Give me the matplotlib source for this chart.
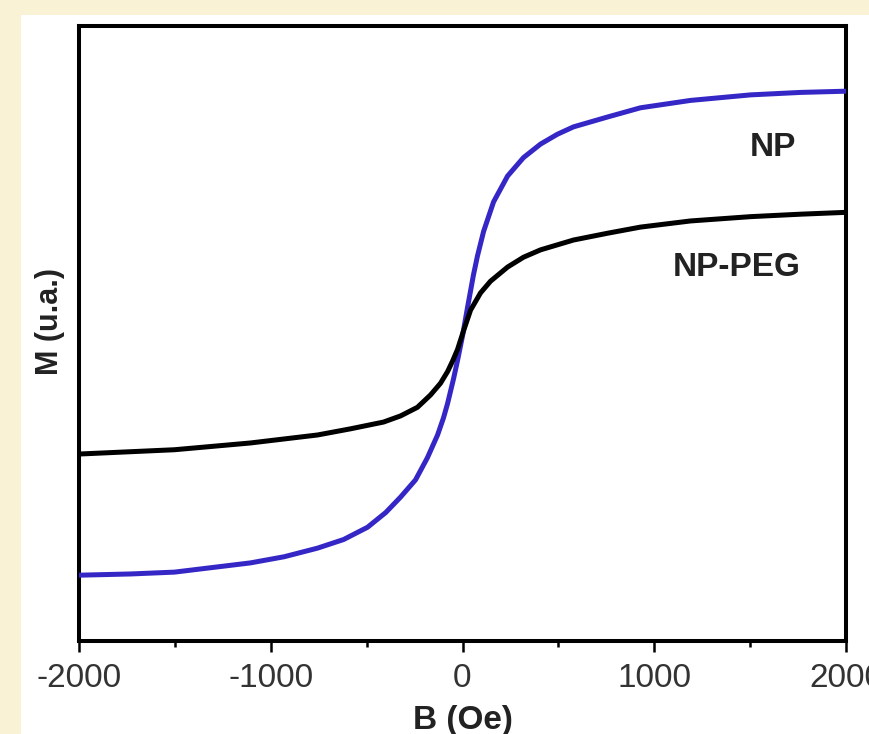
import numpy as np
import matplotlib.pyplot as plt
from matplotlib.patches import Rectangle

# campo aplicado (Oe) e magnetizacao (u.a.)
campo_np = [-2000, -1731, -1502, -1106, -930, -756, -620, -495, -400, -323, -245, -183,
            -130, -99, -78, -47, -26, 0, 26, 57, 78, 110, 162, 235, 318, 407, 495, 579,
            756, 928, 1189, 1502, 1763, 2000]
mag_np = [10.7, 10.9, 11.2, 12.7, 13.7, 15.1, 16.5, 18.5, 20.9, 23.4, 26.2, 29.8,
          33.5, 36.3, 38.6, 42.6, 45.6, 49.6, 54.2, 59.5, 62.6, 66.6, 71.4, 75.6, 78.6,
          80.8, 82.4, 83.6, 85.2, 86.7, 87.9, 88.8, 89.2, 89.4]

campo_peg = [-2000, -1502, -1106, -756, -584, -412, -323, -235, -167, -115, -78, -52,
             -26, 5, 42, 94, 146, 235, 318, 407, 579, 756, 928, 1189, 1502, 1763, 2000]
mag_peg = [30.4, 31.1, 32.2, 33.5, 34.5, 35.6, 36.6, 38.0, 40.0, 41.9, 43.8, 45.5,
           47.4, 50.4, 53.8, 56.6, 58.5, 60.8, 62.4, 63.6, 65.2, 66.3, 67.3, 68.3,
           69.0, 69.4, 69.7]

ticks_x = [-2000, -1000, 0, 1000, 2000]
rotulos_x = ['-2000', '-1000', '0', '1000', '2000']

plt.rcParams['font.family'] = ['Liberation Sans', 'DejaVu Sans']

fig = plt.figure(figsize=(8.69, 7.34), dpi=100)
fig.patch.set_facecolor('#f9f2d4')
# painel branco (atras dos eixos)
fig.patches.append(Rectangle((21/869, 0), 1, 1 - 15/734, transform=fig.transFigure,
                             facecolor='white', edgecolor='none', zorder=-10))

ax = fig.add_axes([79/869, 93/734, 767/869, 615/734])
ax.set_zorder(5)
ax.set_facecolor('white')

ax.plot(campo_np, mag_np, color='#3527c6', lw=3.6, solid_joinstyle='round', zorder=3)
ax.plot(campo_peg, mag_peg, color='black', lw=3.6, solid_joinstyle='round', zorder=3)

ax.set_xlim(-2000, 2000)
ax.set_ylim(0, 100)

ax.set_xticks(ticks_x)
ax.set_xticklabels(rotulos_x)
ax.set_xticks([-1500, -500, 500, 1500], minor=True)
ax.set_yticks([])
ax.tick_params(axis='x', which='major', direction='out', length=8, width=1.8,
               labelsize=24, labelcolor='#333333', pad=8)
ax.tick_params(axis='x', which='minor', direction='out', length=4, width=1.8)

for s in ax.spines.values():
    s.set_linewidth(2.9)

ax.set_xlabel('B (Oe)', fontsize=24, fontweight='bold', color='#222222', labelpad=8)
ax.set_ylabel('M (u.a.)', fontsize=22, fontweight='bold', color='#222222')
ax.yaxis.set_label_coords(-0.018, 0.52)

ax.text(1620, 80.3, 'NP', fontsize=24, fontweight='bold', color='#222222',
        ha='center', va='center')
ax.text(1430, 60.7, 'NP-PEG', fontsize=24, fontweight='bold', color='#222222',
        ha='center', va='center')

plt.savefig('out.png', dpi=100, facecolor=fig.get_facecolor())
